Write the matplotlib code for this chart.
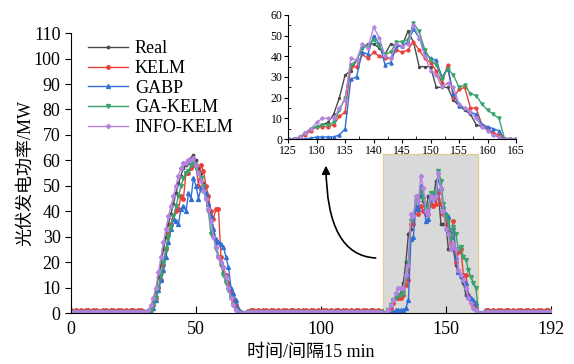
import numpy as np
import matplotlib
matplotlib.use('Agg')
import matplotlib.pyplot as plt
from matplotlib.patches import Rectangle
from matplotlib.ticker import MultipleLocator

plt.rcParams['font.family'] = ['Liberation Serif', 'Noto Sans CJK SC']

# time index 0..192 (15 min steps), built from night / day segments
t = np.arange(193)

real_day1 = [0, 0.5, 2, 5, 9, 14, 19, 25, 30, 35, 39, 43, 47, 51, 54, 57, 58, 59, 61, 62,
             60, 57, 55, 51, 47, 43, 38, 33, 28, 22, 19, 16, 13, 10, 7, 4, 2, 1, 0, 0, 0]
real_day2 = [0, 0, 1, 3, 5, 6, 7, 8, 12, 20, 31, 33, 38, 44, 46, 46, 44, 41, 46, 45,
             45, 52, 47, 35, 35, 35, 25, 25, 25, 19, 16, 14, 12, 7, 6, 5, 2, 1, 0, 0, 0]

kelm_day1 = [0, 0.5, 1, 3, 6, 10, 13, 19, 25, 31, 35, 37, 40, 41, 46, 45, 55, 55, 57, 58,
             58, 50, 58, 56, 50, 46, 40, 37, 41, 41, 22, 18, 15, 12, 8, 5, 3, 1, 0.5, 0, 0]
kelm_day2 = [0, 0, 1, 2, 4, 6, 6, 6, 7, 11, 13, 35, 35, 41, 39, 42, 40, 39, 39, 43,
             42, 43, 47, 43, 39, 37, 33, 27, 36, 20, 24, 25, 15, 15, 7, 5, 3, 2, 0, 0, 0]
kelm_night1 = [1.0, 0.8, 1.1, 0.9, 1.2, 0.8, 1.0, 1.1, 0.9, 1.0, 1.2, 0.8, 0.9, 1.1, 1.0,
               0.8, 1.2, 1.0, 0.9, 1.1, 1.0, 0.8, 1.1, 0.9, 1.2, 1.0, 0.9, 1.0, 1.1, 0.8]
kelm_night2 = [0.9, 1.1, 1.0, 0.8, 1.2, 0.9, 1.0, 1.1, 0.8, 1.0, 1.2, 0.9, 1.0, 0.8, 1.1,
               1.0, 0.9, 1.2, 1.0, 0.8, 1.1, 0.9, 1.0, 1.2, 0.8, 1.0, 1.1, 0.9, 1.0, 0.8,
               1.2, 1.0, 0.9, 1.1, 0.8, 1.0, 1.2, 0.9, 1.0, 1.1, 0.8, 1.0, 0.9, 1.2, 1.0,
               0.8, 1.1, 1.0, 0.9, 1.2, 1.0, 0.8, 1.1, 0.9]
kelm_night3 = [1.0, 1.1, 0.8, 1.2, 0.9, 1.0, 1.1, 0.8, 1.0, 1.2, 0.9, 1.0, 0.8, 1.1,
               1.0, 0.9, 1.2, 1.0, 0.8, 1.1, 0.9, 1.0, 1.2, 0.8, 1.0, 1.1, 0.9]

gabp_day1 = [0, 0, 0.5, 2, 5, 9, 13, 17, 22, 28, 33, 37, 36, 35, 41, 42, 40, 47, 45, 53,
             50, 45, 49, 50, 47, 43, 38, 33, 29, 28, 27, 26, 22, 18, 10, 8, 5, 2, 0.5, 0, 0]
gabp_day2 = [0, 0, 0, 0, 0.5, 1, 1, 1, 1, 2, 5, 29, 30, 42, 41, 50, 46, 36, 37, 45,
             45, 47, 53, 49, 42, 39, 38, 30, 34, 22, 16, 15, 13, 12, 7, 6, 5, 4, 0, 0, 0]

gakelm_day1 = [0, 0, 1, 3, 6, 10, 15, 20, 25, 30, 34, 38, 42, 46, 50, 53, 55, 56, 58, 59,
               57, 55, 53, 50, 45, 40, 31, 30, 25, 22, 19, 15, 12, 9, 6, 3, 1, 0.5, 0, 0, 0]
gakelm_day2 = [0, 0, 1, 3, 5, 6, 7, 7, 8, 14, 20, 36, 38, 44, 45, 48, 45, 41, 42, 47,
               47, 48, 56, 52, 43, 38, 36, 29, 34, 31, 25, 26, 22, 21, 17, 14, 12, 10, 0, 0, 0]

info_day1 = [0, 1, 3, 6, 10, 16, 22, 28, 33, 38, 42, 46, 50, 54, 57, 59, 59, 60, 60, 61,
             58, 55, 52, 48, 45, 41, 36, 30, 26, 22, 20, 18, 14, 10, 6, 3, 1, 0, 0, 0, 0]
info_day2 = [0, 0, 1, 3, 5, 8, 10, 10, 10, 15, 19, 39, 38, 46, 44, 54, 49, 40, 39, 46,
             45, 46, 55, 49, 40, 33, 31, 25, 27, 25, 17, 15, 13, 10, 6, 4, 2, 1, 0, 0, 0]

real = [0] * 30 + real_day1 + [0] * 54 + real_day2 + [0] * 27
kelm = kelm_night1 + kelm_day1 + kelm_night2 + kelm_day2 + kelm_night3
gabp = [0.2] * 30 + gabp_day1 + [0.2] * 54 + gabp_day2 + [0.2] * 27
gakelm = [0.3] * 30 + gakelm_day1 + [0.3] * 54 + gakelm_day2 + [0.3] * 27
info = [0.4] * 30 + info_day1 + [0.4] * 54 + info_day2 + [0.4] * 27

names = ['Real', 'KELM', 'GABP', 'GA-KELM', 'INFO-KELM']
colors = ['#4a4a4a', '#e8413c', '#2f6fd6', '#3aa36b', '#b482e0']
markers = ['.', 'o', '^', 'v', 'D']
sizes = [3.5, 2.5, 2.8, 2.8, 2.2]
series = [real, kelm, gabp, gakelm, info]

fig = plt.figure(figsize=(5.74, 3.64), dpi=100)
ax = fig.add_axes([0.1237, 0.140, 0.836, 0.769])

ax.add_patch(Rectangle((125, 0), 38, 62.5, facecolor='#d9d9d9',
                       edgecolor='#e2cf98', lw=1, zorder=0))

for y, name, c, m, s in zip(series, names, colors, markers, sizes):
    ax.plot(t, y, color=c, marker=m, ms=s, lw=1, label=name)

ax.set_xlim(0, 192)
ax.set_ylim(0, 110)
ax.set_xticks([0, 50, 100, 150, 192])
ax.xaxis.set_minor_locator(MultipleLocator(25))
ax.set_yticks(np.arange(0, 111, 10))
ax.tick_params(axis='x', direction='in', length=5, labelsize=13, pad=6)
ax.tick_params(axis='x', which='minor', direction='in', length=3)
ax.tick_params(axis='y', direction='out', length=4, labelsize=13)
ax.spines['right'].set_visible(False)
ax.spines['top'].set_visible(False)
ax.set_ylabel('光伏发电功率/MW', fontsize=13, labelpad=0)
ax.set_xlabel('时间/间隔15 min', fontsize=13, labelpad=4)

ax.legend(loc='upper left', bbox_to_anchor=(0.02, 1.0), frameon=False, fontsize=13,
          labelspacing=0.15, handlelength=2.2, handletextpad=0.4, borderaxespad=0)

ax.annotate('', xy=(102, 59), xytext=(123, 21.6),
            arrowprops=dict(arrowstyle='-|>', color='black', lw=1.2, mutation_scale=12,
                            connectionstyle='angle3,angleA=0,angleB=90'))

# zoomed inset of the second day
ins = fig.add_axes([0.502, 0.618, 0.397, 0.341])
for y, name, c, m, s in zip(series, names, colors, markers, sizes):
    ins.plot(t[125:166], y[125:166], color=c, marker=m, ms=s * 0.8, lw=1)
ins.set_xlim(125, 165)
ins.set_ylim(0, 60)
ins.set_xticks(np.arange(125, 166, 5))
ins.set_yticks(np.arange(0, 61, 10))
ins.yaxis.set_minor_locator(MultipleLocator(5))
ins.xaxis.set_minor_locator(MultipleLocator(2.5))
ins.tick_params(labelsize=8.5, length=3, pad=1)
ins.tick_params(which='minor', direction='in', length=2)
ins.spines['right'].set_visible(False)
ins.spines['top'].set_visible(False)
ins.patch.set_alpha(0)

fig.savefig('out.png', dpi=100)
